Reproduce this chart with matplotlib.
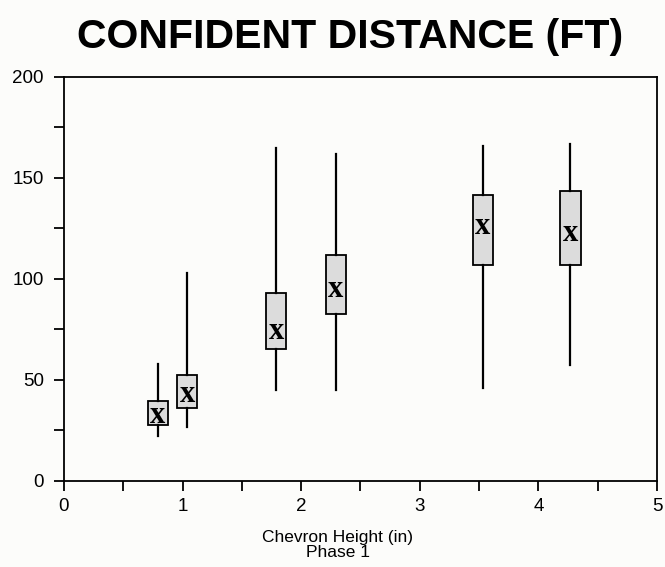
import matplotlib.pyplot as plt

# chevron height (in) and box stats
heights = [0.79, 1.04, 1.79, 2.29, 3.53, 4.27]
whisk_lo = [22.3, 26.6, 45.0, 45.0, 46.0, 57.4]
q1 = [27.7, 36.3, 65.2, 82.7, 106.9, 106.9]
q3 = [39.7, 52.5, 92.9, 111.9, 141.6, 143.7]
whisk_hi = [57.9, 103.0, 164.7, 161.9, 165.8, 166.8]
means = [32.2, 42.6, 73.9, 94.9, 125.9, 122.6]

stats = []
for i in range(len(heights)):
    stats.append({
        'whislo': whisk_lo[i], 'q1': q1[i], 'med': means[i],
        'q3': q3[i], 'whishi': whisk_hi[i], 'fliers': [],
    })

fig = plt.figure(figsize=(6.65, 5.67), dpi=100, facecolor='#fcfcfa')
ax = fig.add_axes([0.0962, 0.1517, 0.8918, 0.7125])
ax.set_facecolor('#fcfcfa')

ax.bxp(stats, positions=heights, widths=0.17, patch_artist=True,
       showcaps=False, showfliers=False,
       boxprops=dict(facecolor='#dcdcdc', edgecolor='black', linewidth=1.3),
       whiskerprops=dict(color='black', linewidth=1.6),
       medianprops=dict(linewidth=0), manage_ticks=False)

# mean marker drawn as a bold serif x
for xpos, m in zip(heights, means):
    ax.text(xpos, m, 'x', ha='center', va='center', fontsize=22,
            fontweight='bold', family='Liberation Serif')

ax.set_xlim(0, 5)
ax.set_ylim(0, 200)
ax.set_xticks([0, 1, 2, 3, 4, 5])
ax.set_xticks([0.5, 1.5, 2.5, 3.5, 4.5], minor=True)
ax.set_yticks([0, 50, 100, 150, 200])
ax.set_yticks([25, 75, 125, 175], minor=True)
ax.tick_params(which='both', direction='out', length=7.5, width=1.3,
               labelsize=13.5)
ax.tick_params(axis='x', pad=5)
ax.tick_params(axis='y', pad=7)
for lab in ax.get_xticklabels() + ax.get_yticklabels():
    lab.set_family('Liberation Sans')
for sp in ax.spines.values():
    sp.set_linewidth(1.3)

ax.set_xlabel('Chevron Height (in)\nPhase 1', fontsize=12.5,
              family='Liberation Sans', linespacing=1.02)
ax.xaxis.set_label_coords(0.462, -0.121)
fig.text(0.527, 0.934, 'CONFIDENT DISTANCE (FT)', ha='center', va='center',
         fontsize=29.5, fontweight='bold', family='Liberation Sans')

fig.savefig('out.png', dpi=100, facecolor=fig.get_facecolor())
